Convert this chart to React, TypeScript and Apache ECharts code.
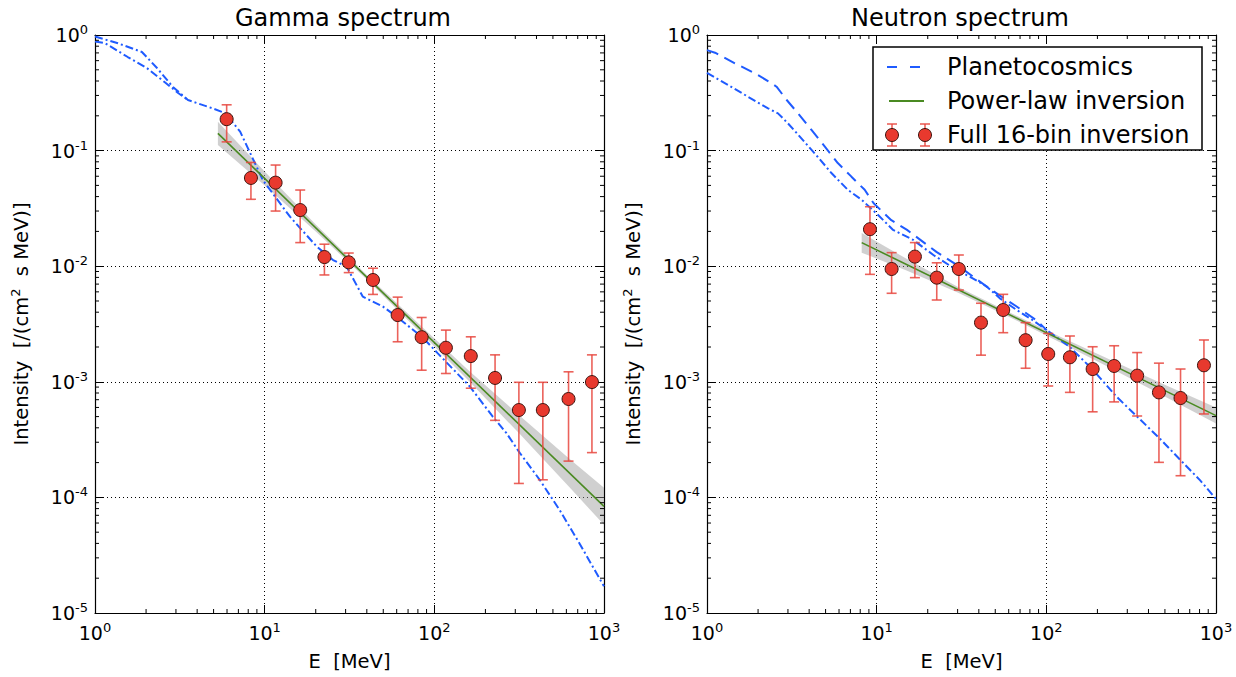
import React, { useEffect, useRef } from 'react';
import * as echarts from 'echarts';

const FONT = 'DejaVu Sans';
const BLUE = '#1f5bff';
const GREEN = '#4a8a22';
const RED = '#e8392e';
const ERR = 'rgba(232,70,62,0.85)';

// axis tick labels (decade exponents)
const xDecades = [1, 10, 100, 1000];
const yDecades = [1e-5, 1e-4, 1e-3, 1e-2, 1e-1, 1];
const minorMult = [2, 3, 4, 5, 6, 7, 8, 9];
const minorXDecades = [1, 10, 100];
const minorYDecades = [1e-5, 1e-4, 1e-3, 1e-2, 1e-1];

// ---------- Gamma spectrum ----------
const gammaE = [5.97, 8.3, 11.6, 16.2, 22.5, 31.3, 43.5, 60.8, 84.2, 117, 164, 228, 315, 436, 618, 849];
const gammaI = [0.187, 0.058, 0.0528, 0.0306, 0.012, 0.0108, 0.0076, 0.00378, 0.00243, 0.00197, 0.00167, 0.00108, 0.00057, 0.00057, 0.00071, 0.000995];
const gammaLo = [0.119, 0.0379, 0.03, 0.016, 0.0084, 0.0088, 0.0057, 0.00222, 0.00126, 0.00118, 0.00088, 0.000464, 0.000132, 0.000142, 0.000206, 0.000244];
const gammaHi = [0.249, 0.079, 0.075, 0.0456, 0.0155, 0.013, 0.0096, 0.0054, 0.0036, 0.0028, 0.00245, 0.00171, 0.00099, 0.00099, 0.00122, 0.00171];

const gammaPowerLaw = [[5.3, 0.141], [1000, 8.37e-5]];
const gammaBandE = [5.3, 10, 20, 40, 80, 160, 320, 640, 1000];
const gammaBandHi = [0.178, 0.0659, 0.023, 0.00841, 0.00322, 0.001247, 0.000507, 0.00021, 0.000121];
const gammaBandLo = [0.112, 0.05, 0.02, 0.00767, 0.00281, 0.001014, 0.000351, 0.000118, 5.79e-5];

const gammaPlanetA = [
  [1, 0.97], [1.35, 0.853], [1.89, 0.713], [2.32, 0.518], [2.88, 0.355], [3.53, 0.274], [4.89, 0.233],
  [5.84, 0.211], [7.17, 0.146], [9.76, 0.0555], [14.1, 0.0268], [20.3, 0.01475], [25.3, 0.0113],
  [30.4, 0.0099], [37.9, 0.00545], [49.8, 0.00447], [60, 0.00366], [85.8, 0.0024], [104.5, 0.00177],
  [162, 0.00091], [221, 0.0005], [266, 0.00036], [318, 0.000244], [418, 0.000142], [550, 7.7e-5],
  [717, 4.0e-5], [1000, 1.7e-5],
];
const gammaPlanetB = [
  [1, 0.88], [1.145, 0.85], [1.56, 0.645], [2.02, 0.518], [2.58, 0.39], [3.09, 0.315], [3.53, 0.274],
];

// ---------- Neutron spectrum ----------
const neutronE = [9.13, 12.25, 16.8, 22.6, 30.5, 41.2, 55.7, 75.5, 102.6, 137.7, 187.5, 251, 343, 461, 618, 849];
const neutronI = [0.0209, 0.00946, 0.0121, 0.00796, 0.00946, 0.00325, 0.00418, 0.00229, 0.00174, 0.00163, 0.00129, 0.00137, 0.00113, 0.00081, 0.000724, 0.00139];
const neutronLo = [0.0085, 0.00583, 0.00796, 0.0051, 0.00622, 0.0017, 0.00266, 0.00131, 0.00092, 0.00081, 0.00055, 0.00067, 0.000506, 0.000201, 0.000154, 0.000527];
const neutronHi = [0.0327, 0.0131, 0.016, 0.0107, 0.0125, 0.00478, 0.00571, 0.00325, 0.00262, 0.00249, 0.00201, 0.00205, 0.00179, 0.00145, 0.00129, 0.0023];

const neutronPowerLaw = [[8.16, 0.016], [1000, 0.00051]];
const neutronBandE = [8.16, 15, 30, 60, 120, 240, 480, 1000];
const neutronBandHi = [0.0194, 0.01159, 0.00665, 0.00401, 0.00247, 0.00154, 0.000968, 0.0006];
const neutronBandLo = [0.0131, 0.0092, 0.00593, 0.00366, 0.0022, 0.00131, 0.000769, 0.000435];

const neutronPlanetDash = [
  [1, 0.74], [1.115, 0.703], [1.46, 0.569], [1.92, 0.466], [2.41, 0.382], [2.57, 0.357], [2.95, 0.274],
  [3.44, 0.21], [4.14, 0.15], [4.95, 0.108], [5.9, 0.078], [7.1, 0.0595], [8.5, 0.0458], [9.6, 0.035],
  [12.2, 0.025], [15.1, 0.0206], [22.5, 0.0133], [30.8, 0.0099], [44.3, 0.0067], [53, 0.0056],
  [66.5, 0.0045], [87.5, 0.0034], [100.5, 0.0028],
];
const neutronPlanetDashDot = [
  [1, 0.47], [1.33, 0.37], [1.74, 0.293], [2.29, 0.232], [2.62, 0.21], [3.0, 0.172], [3.61, 0.127],
  [4.5, 0.088], [5.43, 0.0636], [6.76, 0.0458], [8.16, 0.0375], [10.2, 0.0277], [12.5, 0.0206],
  [16.4, 0.0169], [21.6, 0.0125], [29.5, 0.0093], [35.5, 0.0081], [44.3, 0.0067], [53, 0.0053],
  [66.5, 0.0042], [83.5, 0.0034], [100.5, 0.0028], [137.5, 0.002], [188, 0.00127], [260, 0.00074],
  [358, 0.00047], [469, 0.00032], [614, 0.000212], [804, 0.000141], [1000, 9.7e-5],
];

const DASH = [12, 7];
const DASHDOT = [8, 3, 2, 3];

const supFmt = (v: number) => `{b|10}{s|${Math.round(Math.log10(v))}}`;
const labelRich = {
  b: { fontSize: 19, fontFamily: FONT, color: '#000' },
  s: { fontSize: 13, fontFamily: FONT, color: '#000', padding: [0, 0, 11, 0] },
};

const grids = [
  { left: 95, top: 35, width: 509, height: 578 },
  { left: 707, top: 35, width: 509, height: 578 },
];

function xAxes(g: number) {
  const common = {
    type: 'log', logBase: 10, gridIndex: g, min: xDecades[0], max: xDecades[xDecades.length - 1], splitNumber: 3,
    axisLine: { show: true, lineStyle: { color: '#000', width: 1.2 } },
    axisTick: { show: true, inside: true, length: 8, lineStyle: { color: '#000', width: 1 } },
  };
  return [
    {
      ...common, position: 'bottom',
      axisLabel: { formatter: supFmt, margin: 8, rich: labelRich },
      splitLine: { show: true, lineStyle: { color: '#000', type: [1, 3], width: 1 } },
      name: 'E  [MeV]', nameLocation: 'middle', nameGap: 38,
      nameTextStyle: { fontFamily: FONT, fontSize: 19.5, color: '#000' },
    },
    { ...common, position: 'top', axisLabel: { show: false }, splitLine: { show: false } },
  ];
}

function yAxes(g: number) {
  const common = {
    type: 'log', logBase: 10, gridIndex: g, min: yDecades[0], max: yDecades[yDecades.length - 1], splitNumber: 5,
    axisLine: { show: true, lineStyle: { color: '#000', width: 1.2 } },
    axisTick: { show: true, inside: true, length: 8, lineStyle: { color: '#000', width: 1 } },
  };
  return [
    {
      ...common, position: 'left',
      axisLabel: { formatter: supFmt, margin: 7, rich: labelRich },
      splitLine: { show: true, lineStyle: { color: '#000', type: [1, 3], width: 1 } },
      name: '{n|Intensity  [/(cm}{s|2}{n|  s MeV)]}', nameLocation: 'middle', nameGap: 62,
      nameTextStyle: {
        rich: {
          n: { fontFamily: FONT, fontSize: 19.5, color: '#000' },
          s: { fontFamily: FONT, fontSize: 13, color: '#000', padding: [0, 0, 11, 0] },
        },
      },
    },
    { ...common, position: 'right', axisLabel: { show: false }, splitLine: { show: false } },
  ];
}

function minorTicks(g: number) {
  const xs: number[][] = [];
  minorXDecades.forEach((d) => minorMult.forEach((m) => xs.push([m * d, 0.01])));
  const ys: number[][] = [];
  minorYDecades.forEach((d) => minorMult.forEach((m) => ys.push([10, m * d])));
  const L = 4;
  const style = { stroke: '#000', lineWidth: 1 };
  return [
    {
      type: 'custom', xAxisIndex: 2 * g, yAxisIndex: 2 * g, silent: true, z: 6, data: xs,
      renderItem: (params: any, api: any) => {
        const p = api.coord([api.value(0), 0.01]);
        const cs = params.coordSys;
        const b = cs.y + cs.height;
        return {
          type: 'group', children: [
            { type: 'line', shape: { x1: p[0], y1: b, x2: p[0], y2: b - L }, style },
            { type: 'line', shape: { x1: p[0], y1: cs.y, x2: p[0], y2: cs.y + L }, style },
          ],
        };
      },
    },
    {
      type: 'custom', xAxisIndex: 2 * g, yAxisIndex: 2 * g, silent: true, z: 6, data: ys,
      renderItem: (params: any, api: any) => {
        const p = api.coord([10, api.value(1)]);
        const cs = params.coordSys;
        const r = cs.x + cs.width;
        return {
          type: 'group', children: [
            { type: 'line', shape: { x1: cs.x, y1: p[1], x2: cs.x + L, y2: p[1] }, style },
            { type: 'line', shape: { x1: r, y1: p[1], x2: r - L, y2: p[1] }, style },
          ],
        };
      },
    },
  ];
}

function band(g: number, bx: number[], lo: number[], hi: number[]) {
  return {
    type: 'custom', xAxisIndex: 2 * g, yAxisIndex: 2 * g, silent: true, z: 1,
    data: [[bx[0], hi[0]]],
    renderItem: (params: any, api: any) => {
      const pts: number[][] = [];
      for (let i = 0; i < bx.length; i++) pts.push(api.coord([bx[i], hi[i]]));
      for (let i = bx.length - 1; i >= 0; i--) pts.push(api.coord([bx[i], lo[i]]));
      return { type: 'polygon', shape: { points: pts }, style: { fill: 'rgba(150,150,150,0.45)' } };
    },
  };
}

function errorBars(g: number, e: number[], lo: number[], hi: number[]) {
  return {
    type: 'custom', xAxisIndex: 2 * g, yAxisIndex: 2 * g, silent: true, z: 8,
    data: e.map((x, i) => [x, lo[i], hi[i]]),
    encode: { x: 0, y: [1, 2] },
    renderItem: (params: any, api: any) => {
      const x = api.value(0);
      const a = api.coord([x, api.value(1)]);
      const b = api.coord([x, api.value(2)]);
      const w = 5;
      const style = { stroke: ERR, lineWidth: 1.6 };
      return {
        type: 'group', children: [
          { type: 'line', shape: { x1: a[0], y1: a[1], x2: b[0], y2: b[1] }, style },
          { type: 'line', shape: { x1: a[0] - w, y1: a[1], x2: a[0] + w, y2: a[1] }, style },
          { type: 'line', shape: { x1: b[0] - w, y1: b[1], x2: b[0] + w, y2: b[1] }, style },
        ],
      };
    },
  };
}

function lineSeries(g: number, name: string, data: number[][], color: string, type: any, width: number, z: number) {
  return {
    type: 'line', name, xAxisIndex: 2 * g, yAxisIndex: 2 * g, data, showSymbol: false, symbol: 'none',
    lineStyle: { color, type, width }, z, silent: true,
  };
}

function points(g: number, e: number[], v: number[]) {
  return {
    type: 'scatter', name: 'Full 16-bin inversion', xAxisIndex: 2 * g, yAxisIndex: 2 * g,
    data: e.map((x, i) => [x, v[i]]), symbol: 'circle', symbolSize: 13, z: 9,
    itemStyle: { color: RED, borderColor: '#3b1510', borderWidth: 1, opacity: 1 },
  };
}

const legendX = 873, legendY = 47;
const LFS = 24;
const legendGraphic = [
  { type: 'rect', shape: { x: legendX, y: legendY, width: 329, height: 103 }, style: { fill: '#fff', stroke: '#000', lineWidth: 1.5 }, z: 100 },
  { type: 'line', shape: { x1: 887, y1: 67, x2: 922, y2: 67 }, style: { stroke: BLUE, lineWidth: 2, lineDash: [10, 13] }, z: 101 },
  { type: 'line', shape: { x1: 889, y1: 101, x2: 924, y2: 101 }, style: { stroke: GREEN, lineWidth: 2 }, z: 101 },
  ...[892, 925].flatMap((cx) => [
    { type: 'line', shape: { x1: cx, y1: 124, x2: cx, y2: 146 }, style: { stroke: ERR, lineWidth: 1.6 }, z: 101 },
    { type: 'line', shape: { x1: cx - 5, y1: 124, x2: cx + 5, y2: 124 }, style: { stroke: ERR, lineWidth: 1.6 }, z: 101 },
    { type: 'line', shape: { x1: cx - 5, y1: 146, x2: cx + 5, y2: 146 }, style: { stroke: ERR, lineWidth: 1.6 }, z: 101 },
    { type: 'circle', shape: { cx, cy: 135, r: 6.5 }, style: { fill: RED, stroke: '#3b1510', lineWidth: 1 }, z: 102 },
  ]),
  { type: 'text', x: 947, y: 67, style: { text: 'Planetocosmics', fontSize: LFS, fontFamily: FONT, fill: '#000', verticalAlign: 'middle' }, z: 101 },
  { type: 'text', x: 947, y: 101, style: { text: 'Power-law inversion', fontSize: LFS, fontFamily: FONT, fill: '#000', verticalAlign: 'middle' }, z: 101 },
  { type: 'text', x: 947, y: 135, style: { text: 'Full 16-bin inversion', fontSize: LFS, fontFamily: FONT, fill: '#000', verticalAlign: 'middle' }, z: 101 },
];

const titleStyle = { fontFamily: FONT, fontSize: 24, fontWeight: 'normal', color: '#000' };

const option: any = {
  animation: false,
  backgroundColor: '#fff',
  title: [
    { text: 'Gamma spectrum', left: 343, top: 6, textAlign: 'center', padding: 0, textStyle: titleStyle },
    { text: 'Neutron spectrum', left: 960, top: 6, textAlign: 'center', padding: 0, textStyle: titleStyle },
  ],
  grid: grids,
  xAxis: [...xAxes(0), ...xAxes(1)],
  yAxis: [...yAxes(0), ...yAxes(1)],
  graphic: legendGraphic,
  series: [
    band(0, gammaBandE, gammaBandLo, gammaBandHi),
    ...minorTicks(0),
    lineSeries(0, 'Planetocosmics', gammaPlanetA, BLUE, DASHDOT, 2, 3),
    lineSeries(0, 'Planetocosmics B', gammaPlanetB, BLUE, DASHDOT, 2, 3),
    lineSeries(0, 'Power-law inversion', gammaPowerLaw, GREEN, 'solid', 1.6, 4),
    errorBars(0, gammaE, gammaLo, gammaHi),
    points(0, gammaE, gammaI),

    band(1, neutronBandE, neutronBandLo, neutronBandHi),
    ...minorTicks(1),
    lineSeries(1, 'Planetocosmics', neutronPlanetDash, BLUE, DASH, 2, 3),
    lineSeries(1, 'Planetocosmics B', neutronPlanetDashDot, BLUE, DASHDOT, 2, 3),
    lineSeries(1, 'Power-law inversion', neutronPowerLaw, GREEN, 'solid', 1.6, 4),
    errorBars(1, neutronE, neutronLo, neutronHi),
    points(1, neutronE, neutronI),
  ],
};

export default function App() {
  const ref = useRef<HTMLDivElement>(null);
  useEffect(() => {
    const chart = echarts.init(ref.current as HTMLDivElement, null, { renderer: 'svg' });
    chart.setOption(option);
    return () => chart.dispose();
  }, []);
  return (
    <div
      ref={ref}
      style={{ position: 'fixed', left: 0, top: 0, width: 1236, height: 677, background: '#fff' }}
    />
  );
}
